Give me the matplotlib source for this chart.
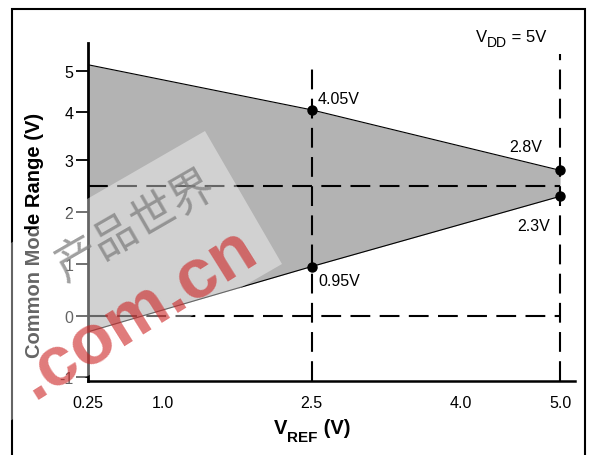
import numpy as np
import matplotlib
matplotlib.use("Agg")
import matplotlib.pyplot as plt
from matplotlib.patches import Polygon, Rectangle

# ---------- data ----------
vref = [0.25, 2.5, 5.0]
cm_upper = [5.15, 4.05, 2.8]
cm_lower = [-0.26, 0.95, 2.3]

marker_x = [2.5, 2.5, 5.0, 5.0]
marker_y = [4.05, 0.95, 2.8, 2.3]
marker_text = ["4.05V", "0.95V", "2.8V", "2.3V"]

x_ticks = [0.25, 1.0, 2.5, 4.0, 5.0]
x_tick_labels = ["0.25", "1.0", "2.5", "4.0", "5.0"]
y_ticks = [-1, 0, 1, 2, 3, 4, 5]
y_tick_labels = ["-1", "0", "1", "2", "3", "4", "5"]

guide_vref = [2.5, 5.0]
guide_vref_top = [5.24, 5.41]
guide_cm = [2.5, 0.0]

# the printed y axis is not evenly spaced: map value -> drawn height
Y_VALS = np.array([-2, -1, 0, 1, 2, 3, 4, 5, 6], dtype=float)
Y_DRAWN = np.array([-439, -378, -317, -265, -213, -161, -113, -72, -31], dtype=float)


def y_fwd(v):
    return np.interp(v, Y_VALS, Y_DRAWN)


def y_inv(p):
    return np.interp(p, Y_DRAWN, Y_VALS)


W, H = 589, 456


def fig_xy(px, py):
    return (px / W, 1 - py / H)


def rich_text(fig, x_px, base_px, pieces, ha="left"):
    # pieces: (text, size, weight, drop in px) laid side by side
    renderer = fig.canvas.get_renderer()
    placed, x = [], 0.0
    for s, size, weight, drop in pieces:
        t = fig.text(0, 0, s, fontsize=size, fontweight=weight,
                     ha="left", va="baseline")
        placed.append((t, x, drop))
        x += t.get_window_extent(renderer).width
    start = {"left": x_px, "center": x_px - x / 2, "right": x_px - x}[ha]
    for t, off, drop in placed:
        t.set_position(fig_xy(start + off, base_px + drop))


plt.rcParams["font.family"] = ["Liberation Sans", "DejaVu Sans"]

fig = plt.figure(figsize=(W / 100, H / 100), dpi=100)
ax = fig.add_axes([88 / W, 1 - 382 / H, 487 / W, 338 / H])
ax.set_yscale("function", functions=(y_fwd, y_inv))
ax.set_xlim(0.25, 5.15)
ax.set_ylim(-1.066, 5.68)

# shaded common mode range
ax.fill_between(vref, cm_lower, cm_upper, color="#b3b3b3", lw=0, zorder=1)
ax.plot(vref, cm_upper, color="black", lw=0.8, zorder=3)
ax.plot(vref, cm_lower, color="black", lw=0.8, zorder=3)

# dashed guide lines
dash = dict(color="black", lw=1.5, dashes=(9.5, 4.5), zorder=2)
for x, top in zip(guide_vref, guide_vref_top):
    ax.plot([x, x], [-1.066, top], clip_on=False, **dash)
for y in guide_cm:
    ax.plot([0.25, 5.0], [y, y], **dash)

ax.plot(marker_x, marker_y, "o", color="black", ms=6.5, zorder=4)

offsets = [(4, 5, "left"), (5, -13, "left"), (-13, 14, "right"), (-7, -24, "right")]
for x, y, t, (dx, dy, ha) in zip(marker_x, marker_y, marker_text, offsets):
    ax.annotate(t, (x, y), xytext=(dx, dy), textcoords="offset points",
                ha=ha, va="baseline", fontsize=11.5)

# axes styling
for s in ["top", "right"]:
    ax.spines[s].set_visible(False)
ax.spines["left"].set_linewidth(2)
ax.spines["bottom"].set_linewidth(1.8)

ax.set_xticks(x_ticks)
ax.set_xticklabels(x_tick_labels, fontsize=11.5)
ax.tick_params(axis="x", length=0, pad=10)
ax.set_xticks([2.5], minor=True)
ax.tick_params(axis="x", which="minor", length=7.5, width=1.5, direction="out")

ax.set_yticks(y_ticks)
ax.set_yticklabels(y_tick_labels, fontsize=11.5)
ax.yaxis.set_minor_locator(matplotlib.ticker.NullLocator())
ax.tick_params(axis="y", length=9, width=1.3, pad=1.5)

fig.text(*fig_xy(35, 235), "Common Mode Range (V)", rotation=90, fontsize=14.5,
         fontweight="bold", ha="center", va="center")

rich_text(fig, 312, 434, [("V", 14.5, "bold", 0), ("REF", 11, "bold", 8),
                          (" (V)", 14.5, "bold", 0)], ha="center")
rich_text(fig, 546, 42, [("V", 12, "normal", 0), ("DD", 10, "normal", 5),
                         (" = 5V", 12, "normal", 0)], ha="right")

# outer frame
fig.add_artist(Rectangle(fig_xy(12, 470), 573 / W, 460 / H, fill=False,
                         lw=1.5, edgecolor="black", transform=fig.transFigure))

# watermark
wm = [fig_xy(205, 132), fig_xy(282, 265), fig_xy(-4, 430), fig_xy(-81, 297)]
fig.add_artist(Polygon(wm, closed=True, facecolor="white", alpha=0.4, lw=0,
                       transform=fig.transFigure, zorder=5))
fig.text(*fig_xy(135, 225), "产品世界", rotation=30, fontsize=32,
         family=["Noto Sans CJK SC", "DejaVu Sans"], color="#808080", alpha=0.75,
         ha="center", va="center", rotation_mode="anchor", zorder=6)
fig.text(*fig_xy(138, 314), ".com.cn", rotation=32, fontsize=51, fontweight="bold",
         color="#cc2222", alpha=0.6, ha="center", va="center",
         rotation_mode="anchor", zorder=6)

fig.savefig("out.png", dpi=100)
